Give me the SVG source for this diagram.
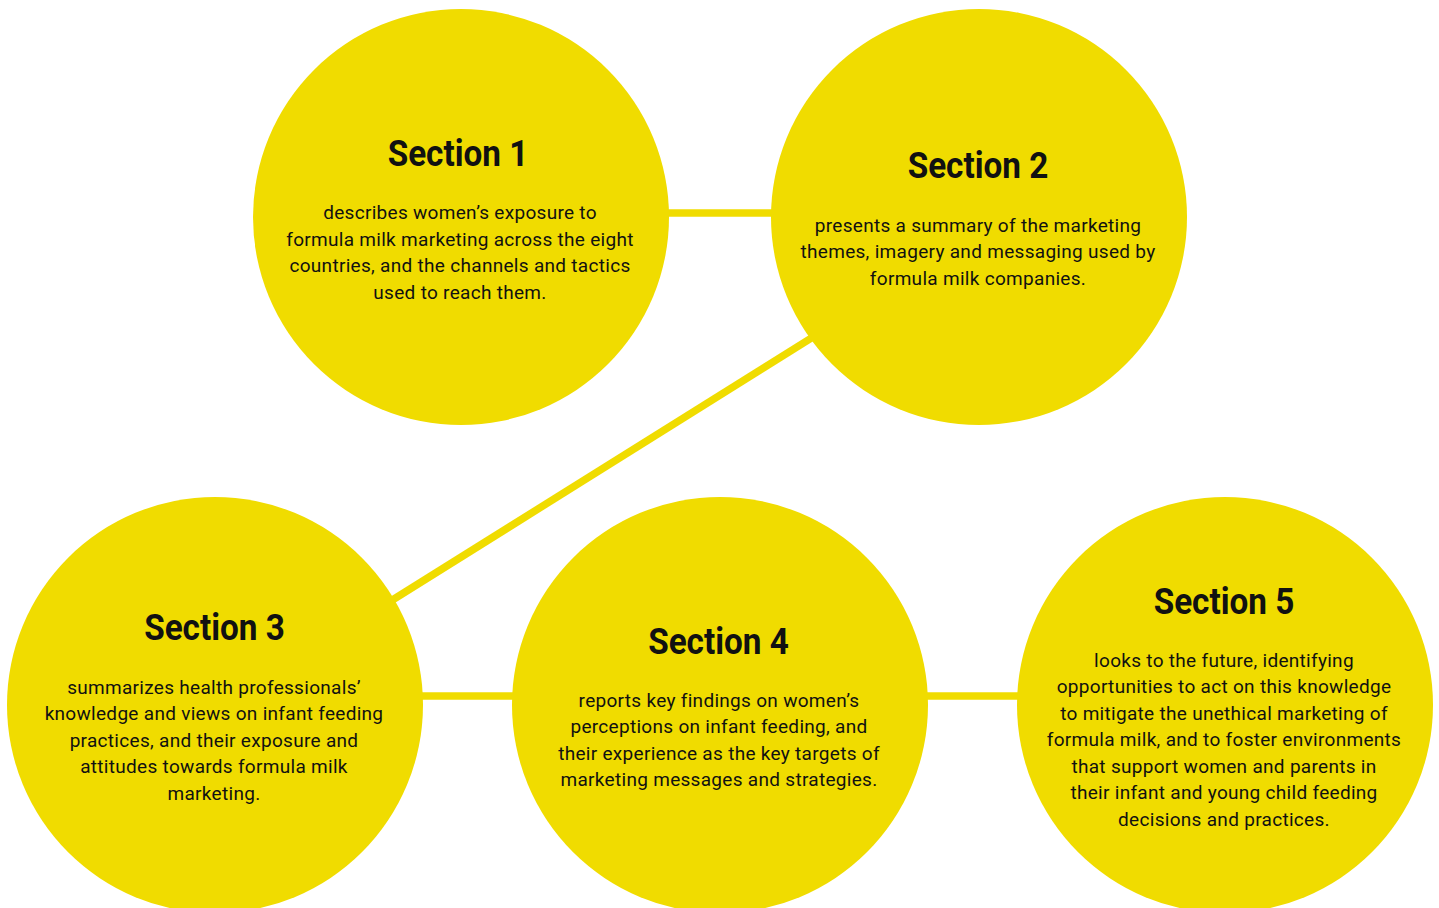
<svg xmlns="http://www.w3.org/2000/svg" width="1439" height="908" viewBox="0 0 1439 908">
<style>
.c{fill:#F0DC00}
.ln{stroke:#F0DC00;stroke-width:7.5;fill:none}
.t{font-family:Roboto,"Liberation Sans",sans-serif;font-weight:700;font-size:37px;fill:#111;text-anchor:middle}
.b{font-family:Roboto,"Liberation Sans",sans-serif;font-size:19px;letter-spacing:0.3px;fill:#111;text-anchor:middle}
</style>
<rect width="1439" height="908" fill="#fff"/>
<g id="connectors">
<line class="ln" x1="660" y1="213" x2="780" y2="213"/>
<line class="ln" x1="830" y1="326.4" x2="370" y2="614"/>
<line class="ln" x1="415" y1="696" x2="520" y2="696"/>
<line class="ln" x1="920" y1="696" x2="1025" y2="696"/>
</g>
<g id="section1">
<circle class="c" cx="461" cy="217" r="208"/>
<text class="t" transform="translate(458 166) scale(0.9 1)">Section 1</text>
<text class="b" x="460" y="219">describes women’s exposure to</text>
<text class="b" x="460" y="245.5">formula milk marketing across the eight</text>
<text class="b" x="460" y="272">countries, and the channels and tactics</text>
<text class="b" x="460" y="298.5">used to reach them.</text>
</g>
<g id="section2">
<circle class="c" cx="979" cy="217" r="208"/>
<text class="t" transform="translate(978 178) scale(0.9 1)">Section 2</text>
<text class="b" x="978" y="231.5">presents a summary of the marketing</text>
<text class="b" x="978" y="258">themes, imagery and messaging used by</text>
<text class="b" x="978" y="284.5">formula milk companies.</text>
</g>
<g id="section3">
<circle class="c" cx="215" cy="705" r="208"/>
<text class="t" transform="translate(214.5 640) scale(0.9 1)">Section 3</text>
<text class="b" x="214" y="693.5">summarizes health professionals’</text>
<text class="b" x="214" y="720">knowledge and views on infant feeding</text>
<text class="b" x="214" y="746.5">practices, and their exposure and</text>
<text class="b" x="214" y="773">attitudes towards formula milk</text>
<text class="b" x="214" y="799.5">marketing.</text>
</g>
<g id="section4">
<circle class="c" cx="720" cy="705" r="208"/>
<text class="t" transform="translate(718.5 654) scale(0.9 1)">Section 4</text>
<text class="b" x="719" y="706.5">reports key findings on women’s</text>
<text class="b" x="719" y="733">perceptions on infant feeding, and</text>
<text class="b" x="719" y="759.5">their experience as the key targets of</text>
<text class="b" x="719" y="786">marketing messages and strategies.</text>
</g>
<g id="section5">
<circle class="c" cx="1225" cy="705" r="208"/>
<text class="t" transform="translate(1224 614) scale(0.9 1)">Section 5</text>
<text class="b" x="1224" y="666.5">looks to the future, identifying</text>
<text class="b" x="1224" y="693">opportunities to act on this knowledge</text>
<text class="b" x="1224" y="719.5">to mitigate the unethical marketing of</text>
<text class="b" x="1224" y="746">formula milk, and to foster environments</text>
<text class="b" x="1224" y="772.5">that support women and parents in</text>
<text class="b" x="1224" y="799">their infant and young child feeding</text>
<text class="b" x="1224" y="825.5">decisions and practices.</text>
</g>
</svg>
